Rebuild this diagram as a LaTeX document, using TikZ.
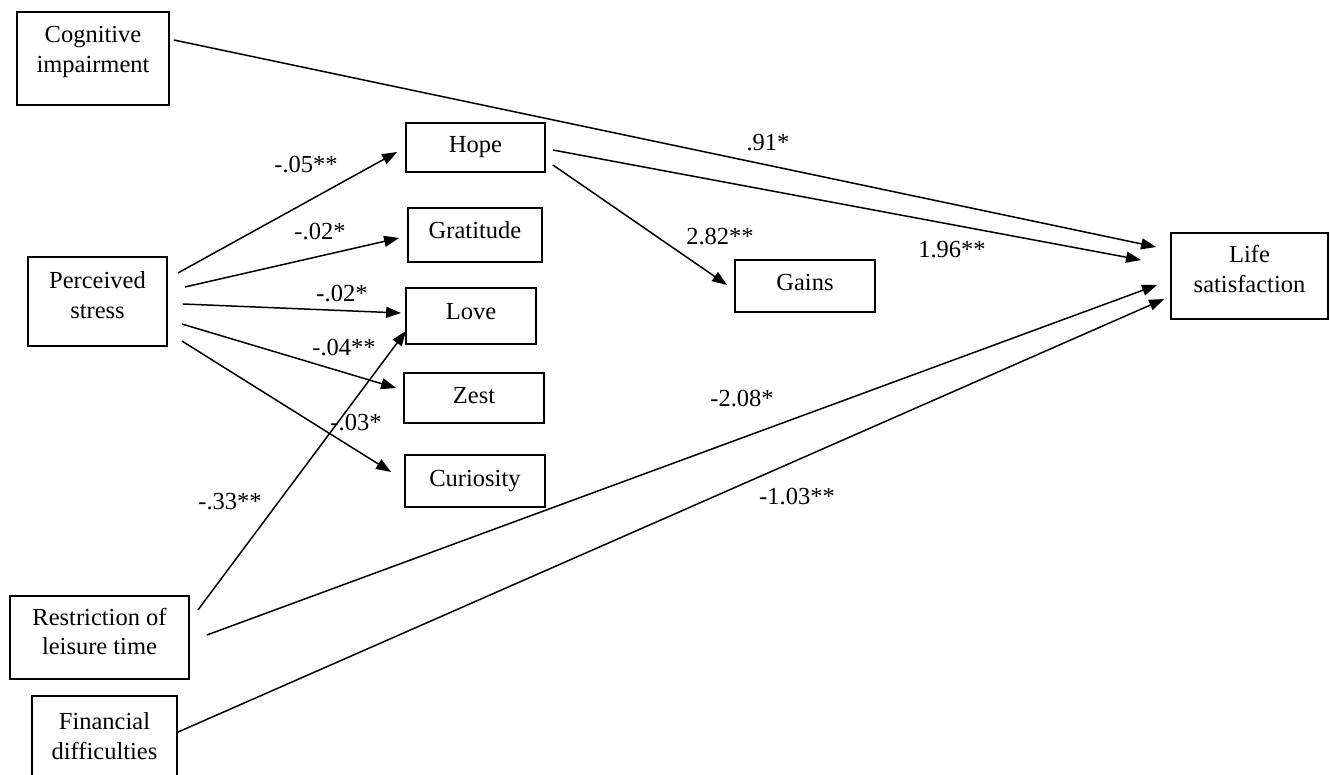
\documentclass[tikz,border=0pt]{standalone}
\usepackage{fontspec}
\setmainfont{Liberation Serif}
\usetikzlibrary{arrows.meta}
\begin{document}
\begin{tikzpicture}[x=1pt,y=-1pt,
  box/.style={draw, line width=1.8pt, align=center, inner sep=0pt,
    font=\fontsize{24.5}{29.5}\selectfont},
  lbl/.style={font=\fontsize{24.5}{29.5}\selectfont, inner sep=0pt},
  arr/.style={line width=1.5pt, -{Triangle[length=15pt,width=11pt]}},
  ln/.style={line width=1.5pt}]
\useasboundingbox (0,0) rectangle (1330,775);
\clip (0,0) rectangle (1330,775);
% boxes
\node[box, minimum width=152pt, minimum height=93pt, text depth=18pt] (cog) at (93,58.5) {Cognitive\\impairment};
\node[box, minimum width=139pt, minimum height=89pt, text depth=13pt] (ps) at (97.5,301.5) {Perceived\\stress};
\node[box, minimum width=139pt, minimum height=49pt] (hope) at (475.5,147.5) {Hope};
\node[box, minimum width=134pt, minimum height=54pt, text depth=9pt] (grat) at (475,235) {Gratitude};
\node[box, minimum width=130pt, minimum height=56pt, text depth=10pt] (love) at (471,316) {Love};
\node[box, minimum width=140pt, minimum height=50pt, text depth=6pt] (zest) at (474,398) {Zest};
\node[box, minimum width=140pt, minimum height=52pt] (cur) at (475,481) {Curiosity};
\node[box, minimum width=140pt, minimum height=52pt, text depth=8pt] (gains) at (805,286) {Gains};
\node[box, minimum width=157pt, minimum height=86pt, text depth=14pt] (life) at (1249.5,276) {Life\\satisfaction};
\node[box, minimum width=179pt, minimum height=83pt, text depth=12pt] (rest) at (99.5,637.5) {Restriction of\\leisure time};
\node[box, minimum width=145pt, minimum height=110pt, text depth=30pt] (fin) at (104.5,751) {Financial\\difficulties};
% connectors
\draw[arr] ([shift={(4,-18.5)}]cog.east) -- ([shift={(-14,-29)}]life.west);
\draw[arr] ([shift={(7,2.5)}]hope.east) -- ([shift={(-29,-16)}]life.west);
\draw[arr] ([shift={(17,-2.5)}]rest.east) -- ([shift={(-13,9)}]life.west);
\draw[arr] ([shift={(0,37)}]fin.north east) -- ([shift={(-6,23)}]life.west);
\draw[arr] ([shift={(8,-27.5)}]rest.east) -- ([shift={(1,-14)}]love.south west);
\draw[arr] ([shift={(10,-28.5)}]ps.east) -- ([shift={(-8,4.5)}]hope.west);
\draw[arr] ([shift={(17,-14.5)}]ps.east) -- ([shift={(-8,3)}]grat.west);
\draw[arr] ([shift={(15,2.5)}]ps.east) -- ([shift={(-4,-3)}]love.west);
\draw[arr] ([shift={(14,22.5)}]ps.east) -- ([shift={(-7,-10)}]zest.west);
\draw[arr] ([shift={(14,39.5)}]ps.east) -- ([shift={(-13,-9)}]cur.west);
\draw[arr] ([shift={(7,17.5)}]hope.east) -- ([shift={(-7,-1)}]gains.west);
% labels
\node[lbl] (l1) at (306,165) {-.05**};
\node[lbl] (l2) at (320,232) {-.02*};
\node[lbl] (l3) at (342,294) {-.02*};
\node[lbl] (l4) at (344,348) {-.04**};
\node[lbl] (l5) at (356,423) {-.03*};
\node[lbl] (l6) at (230,502) {-.33**};
\node[lbl] (l7) at (768,143) {.91*};
\node[lbl] (l8) at (720,237) {2.82**};
\node[lbl] (l9) at (952,250) {1.96**};
\node[lbl] (l10) at (742,399) {-2.08*};
\node[lbl] (l11) at (797,497) {-1.03**};
\end{tikzpicture}
\end{document}
